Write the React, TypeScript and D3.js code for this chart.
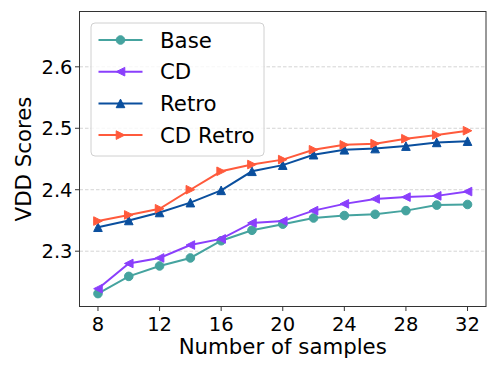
import { scaleLinear, line } from "d3";

// samples per query
const samples = [8, 10, 12, 14, 16, 18, 20, 22, 24, 26, 28, 30, 32];

const baseScores = [2.231, 2.259, 2.276, 2.289, 2.317, 2.334, 2.344, 2.354, 2.358, 2.360, 2.366, 2.375, 2.376];
const cdScores = [2.239, 2.280, 2.289, 2.310, 2.320, 2.346, 2.349, 2.366, 2.377, 2.385, 2.388, 2.390, 2.397];
const retroScores = [2.339, 2.350, 2.363, 2.379, 2.399, 2.430, 2.440, 2.457, 2.465, 2.467, 2.471, 2.477, 2.479];
const cdRetroScores = [2.349, 2.359, 2.369, 2.400, 2.430, 2.441, 2.449, 2.465, 2.473, 2.475, 2.483, 2.489, 2.496];

const xTicks = [8, 12, 16, 20, 24, 28, 32];
const yTicks = [2.3, 2.4, 2.5, 2.6];

const seriesList = [
    { name: "Base", values: baseScores, color: "#45a39f", marker: "circle" },
    { name: "CD", values: cdScores, color: "#8a3ffc", marker: "left" },
    { name: "Retro", values: retroScores, color: "#0a4f9e", marker: "up" },
    { name: "CD Retro", values: cdRetroScores, color: "#ff5a3c", marker: "right" },
];

const W = 498;
const H = 374;
const plot = { left: 79.5, right: 486, top: 11.5, bottom: 306.5 };
const FONT = "DejaVu Sans, sans-serif";

// matplotlib-ish markers
function Marker(props) {
    const { kind, x, y, color } = props;
    const s = 4.3;
    if (kind === "circle") {
        return <circle cx={x} cy={y} r={s} fill={color} stroke={color} strokeWidth={1} />;
    }
    let pts;
    if (kind === "up") pts = [[0, -s], [-s, s], [s, s]];
    else if (kind === "left") pts = [[-s, 0], [s, -s], [s, s]];
    else pts = [[s, 0], [-s, -s], [-s, s]];
    const d = "M" + pts.map(p => `${x + p[0]},${y + p[1]}`).join("L") + "Z";
    return <path d={d} fill={color} stroke={color} strokeWidth={1} strokeLinejoin="miter" />;
}

export default function App() {
    const x = scaleLinear().domain([6.8, 33.2]).range([plot.left, plot.right]);
    const y = scaleLinear().domain([2.21, 2.69]).range([plot.bottom, plot.top]);

    const lineGen = line<number>()
        .x((_, i) => x(samples[i]))
        .y(d => y(d));

    const legendX = 91;
    const legendY = 23;
    const rowGap = 31.7;

    return (
        <svg
            width={W}
            height={H}
            style={{ position: "absolute", left: 0, top: 0, background: "white" }}
            fontFamily={FONT}
        >
            {/* grid */}
            {yTicks.map(t => (
                <line key={"g" + t} x1={plot.left} x2={plot.right} y1={y(t)} y2={y(t)}
                    stroke="#d4d4d4" strokeWidth={1} strokeDasharray="3.5,2" />
            ))}

            {/* series */}
            {seriesList.map(s => (
                <g key={s.name}>
                    <path d={lineGen(s.values) || ""} fill="none" stroke={s.color} strokeWidth={2} />
                    {s.values.map((v, i) => (
                        <Marker key={i} kind={s.marker} x={x(samples[i])} y={y(v)} color={s.color} />
                    ))}
                </g>
            ))}

            {/* frame */}
            <rect x={plot.left} y={plot.top} width={plot.right - plot.left} height={plot.bottom - plot.top}
                fill="none" stroke="#333" strokeWidth={1} />

            {/* x axis */}
            {xTicks.map(t => (
                <g key={"x" + t}>
                    <line x1={x(t)} x2={x(t)} y1={plot.bottom} y2={plot.bottom + 4.5} stroke="#333" />
                    <text x={x(t)} y={330.5} textAnchor="middle" fontSize={19.5}>{t}</text>
                </g>
            ))}
            <text x={(plot.left + plot.right) / 2} y={354} textAnchor="middle" fontSize={21.3}>
                Number of samples
            </text>

            {/* y axis */}
            {yTicks.map(t => (
                <g key={"y" + t}>
                    <line x1={plot.left - 4.5} x2={plot.left} y1={y(t)} y2={y(t)} stroke="#333" />
                    <text x={72.5} y={y(t)} dy="0.36em" textAnchor="end" fontSize={19.5}>{t.toFixed(1)}</text>
                </g>
            ))}
            <text transform={`translate(31, ${(plot.top + plot.bottom) / 2}) rotate(-90)`}
                textAnchor="middle" fontSize={21.3}>
                VDD Scores
            </text>

            {/* legend */}
            <rect x={legendX} y={legendY} width={173} height={133} rx={4}
                fill="white" fillOpacity={0.8} stroke="#d0d0d0" strokeWidth={1} />
            {seriesList.map((s, i) => {
                const cy = 40 + i * rowGap;
                return (
                    <g key={"l" + s.name}>
                        <line x1={98.5} x2={142.5} y1={cy} y2={cy} stroke={s.color} strokeWidth={2} />
                        <Marker kind={s.marker} x={120.5} y={cy} color={s.color} />
                        <text x={160} y={cy + 7.5} fontSize={21.3}>{s.name}</text>
                    </g>
                );
            })}
        </svg>
    );
}
